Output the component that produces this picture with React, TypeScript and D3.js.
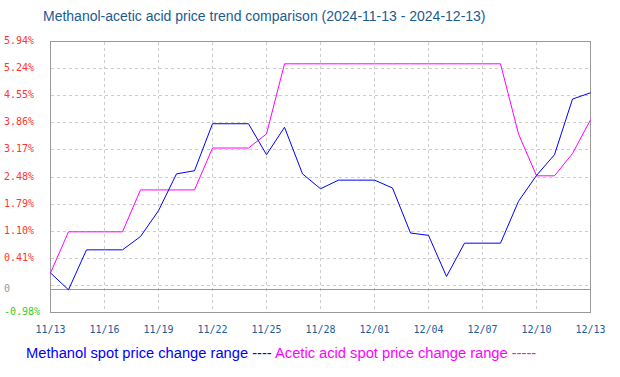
import React from "react";
import * as d3 from "d3";

const dates = [
  "2024-11-13","2024-11-14","2024-11-15","2024-11-16","2024-11-17","2024-11-18","2024-11-19",
  "2024-11-20","2024-11-21","2024-11-22","2024-11-23","2024-11-24","2024-11-25","2024-11-26",
  "2024-11-27","2024-11-28","2024-11-29","2024-11-30","2024-12-01","2024-12-02","2024-12-03",
  "2024-12-04","2024-12-05","2024-12-06","2024-12-07","2024-12-08","2024-12-09","2024-12-10",
  "2024-12-11","2024-12-12","2024-12-13",
];

const methanol = [
  0.03, -0.40, 0.62, 0.62, 0.62, 0.96, 1.62, 2.56, 2.64, 3.84, 3.84, 3.84, 3.05, 3.75, 2.56,
  2.18, 2.40, 2.40, 2.40, 2.20, 1.05, 0.99, -0.06, 0.79, 0.79, 0.79, 1.86, 2.52, 3.05, 4.47, 4.63,
];

const acetic = [
  0.03, 1.08, 1.08, 1.08, 1.08, 2.15, 2.15, 2.15, 2.15, 3.22, 3.22, 3.22, 3.58, 5.37, 5.37,
  5.37, 5.37, 5.37, 5.37, 5.37, 5.37, 5.37, 5.37, 5.37, 5.37, 5.37, 3.58, 2.51, 2.51, 3.08, 3.94,
];

const yTickValues = [5.94, 5.24, 4.55, 3.86, 3.17, 2.48, 1.79, 1.10, 0.41, -0.28, -0.98];
const yTickLabels = ["5.94%", "5.24%", "4.55%", "3.86%", "3.17%", "2.48%", "1.79%", "1.10%", "0.41%", "", "-0.98%"];
const zeroLineValue = -0.40;
const zeroLabel = "0";

const xTickLabels = ["11/13","11/16","11/19","11/22","11/25","11/28","12/01","12/04","12/07","12/10","12/13"];

const title = "Methanol-acetic acid price trend comparison (2024-11-13 - 2024-12-13)";
const legend1 = "Methanol spot price change range ----";
const legend2 = " Acetic acid spot price change range -----";

const W = 620, H = 377;
const L = 50.5, R = 590.5, T = 41.5, B = 312.5;

export default function App() {
  const parse = d3.timeParse("%Y-%m-%d");
  const ds = dates.map((d) => parse(d) as Date);
  const x = d3.scaleTime().domain([ds[0], ds[ds.length - 1]]).range([L, R]);
  const y = d3.scaleLinear().domain([-0.98, 5.94]).range([B, T]);
  const xTicks = ds.filter((_, i) => i % 3 === 0);
  const line = d3
    .line<number>()
    .x((_, i) => x(ds[i]))
    .y((v) => y(v));
  const snap = (v: number) => Math.round(v - 0.5) + 0.5;
  const mono = "'DejaVu Sans Mono', monospace";
  const sans = "'Liberation Sans', Arial, sans-serif";

  return (
    <svg width={W} height={H} style={{ position: "absolute", left: 0, top: 0, background: "#fff" }}>
      <text x={43} y={21} fontFamily={sans} fontSize={14} fill="#1a5b92">{title}</text>

      {/* horizontal gridlines */}
      {yTickValues.slice(1, -1).map((v, i) => (
        <line key={"hg" + i} x1={L} x2={R} y1={snap(y(v))} y2={snap(y(v))}
          stroke="#cccccc" strokeDasharray="3,3" shapeRendering="crispEdges" />
      ))}
      {/* vertical gridlines */}
      {xTicks.slice(1, -1).map((d, i) => (
        <line key={"vg" + i} x1={snap(x(d))} x2={snap(x(d))} y1={T} y2={B}
          stroke="#cccccc" strokeDasharray="3,3" shapeRendering="crispEdges" />
      ))}
      {/* zero line */}
      <line x1={L} x2={R} y1={snap(y(zeroLineValue))} y2={snap(y(zeroLineValue))}
        stroke="#999" shapeRendering="crispEdges" />
      {/* frame */}
      <rect x={L} y={T} width={R - L} height={B - T} fill="none" stroke="#999" shapeRendering="crispEdges" />

      {/* y labels */}
      {yTickValues.map((v, i) => {
        const lab = yTickLabels[i];
        if (!lab) return null;
        const col = v < 0 ? "#33cc33" : "#ff3333";
        return (
          <text key={"yl" + i} x={4} y={y(v) + 2.5} fontFamily={mono} fontSize={10} fill={col}>{lab}</text>
        );
      })}
      <text x={4} y={y(zeroLineValue) + 2} fontFamily={mono} fontSize={10} fill="#999">{zeroLabel}</text>

      {/* x labels */}
      {xTicks.map((d, i) => (
        <text key={"xl" + i} x={x(d)} y={333} textAnchor="middle" fontFamily={mono} fontSize={10} fill="#1f5c99">
          {xTickLabels[i]}
        </text>
      ))}

      {/* series */}
      <path d={line(acetic) || ""} fill="none" stroke="#ff00ff" strokeWidth={1} />
      <path d={line(methanol) || ""} fill="none" stroke="#0000ff" strokeWidth={1} />

      {/* legend */}
      <text x={26} y={358} fontFamily={sans} fontSize={14.7}>
        <tspan fill="#0000ff">{legend1}</tspan>
        <tspan fill="#ff00ff">{legend2}</tspan>
      </text>
    </svg>
  );
}
